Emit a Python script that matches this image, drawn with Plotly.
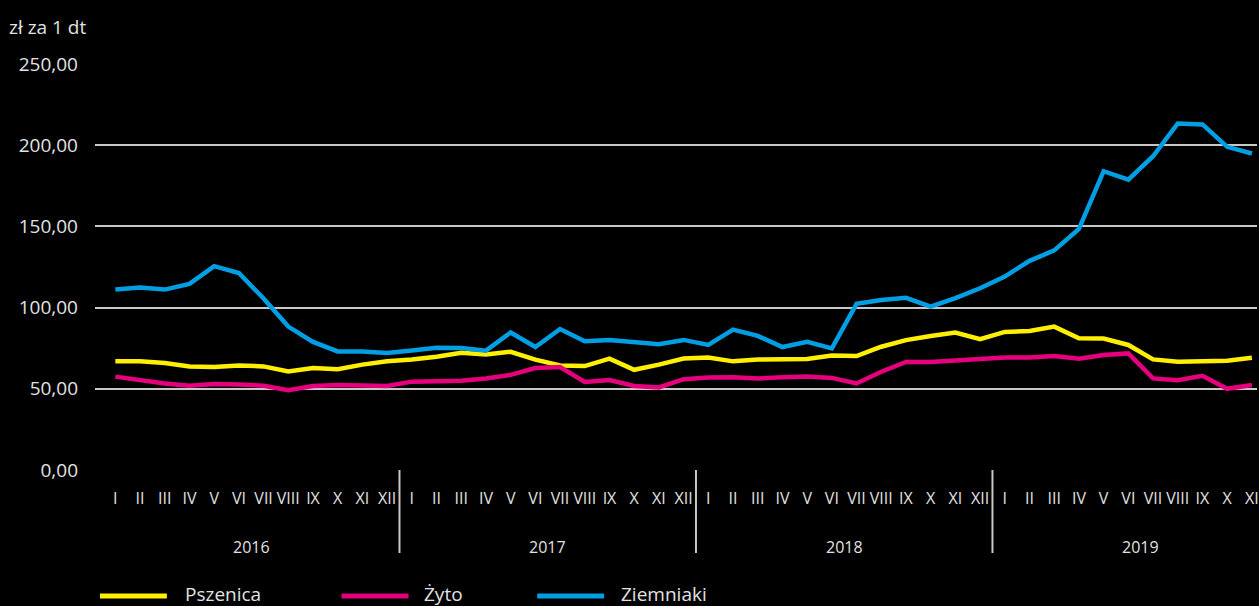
import plotly.graph_objects as go

months = ["I", "II", "III", "IV", "V", "VI", "VII", "VIII", "IX", "X", "XI", "XII"]
years = ["2016", "2017", "2018", "2019"]
tick_labels = months * 4

pszenica = [66.9, 66.9, 65.9, 63.8, 63.4, 64.4, 63.8, 60.7, 62.8, 62.1, 64.9, 66.9,
            68.0, 69.7, 72.2, 71.1, 72.8, 68.0, 64.4, 64.0, 68.6, 61.7, 64.9, 68.6,
            69.2, 66.9, 68.0, 68.0, 68.4, 70.5, 70.2, 75.9, 80.0, 82.5, 84.6, 80.5,
            85.0, 85.6, 88.3, 81.1, 80.9, 77.0, 68.1, 66.7, 67.3, 67.3, 69.1, None]
zyto = [57.5, 55.4, 53.3, 51.9, 52.9, 52.7, 51.9, 49.2, 51.7, 52.3, 51.7, 51.7,
        54.4, 54.8, 55.0, 56.3, 58.6, 62.8, 63.4, 54.2, 55.4, 51.7, 50.8, 55.9,
        56.9, 57.1, 56.3, 57.1, 57.5, 56.7, 53.3, 60.5, 66.5, 66.5, 67.3, 68.1,
        69.3, 69.3, 70.2, 68.5, 70.8, 71.8, 56.4, 55.3, 58.0, 50.0, 52.3, None]
ziemniaki = [111.1, 112.3, 111.1, 114.6, 125.5, 121.3, 105.6, 88.3, 78.9, 73.0, 73.0, 72.0,
             73.6, 75.3, 75.1, 73.5, 84.7, 75.7, 86.8, 79.3, 80.1, 78.9, 77.4, 80.1,
             77.0, 86.4, 82.6, 75.7, 78.9, 74.9, 102.3, 104.7, 106.0, 100.6, 105.8, 111.9,
             119.1, 128.8, 135.2, 148.4, 184.0, 178.8, 193.2, 213.4, 212.8, 199.0, 194.9, None]

series = [("Pszenica", pszenica, "#FFF000"),
          ("Żyto", zyto, "#E6007E"),
          ("Ziemniaki", ziemniaki, "#009FE3")]

x = list(range(len(tick_labels)))
FONT = "Open Sans"
TXT = "#e2e2e2"

fig = go.Figure()
for name, vals, col in series:
    fig.add_trace(go.Scatter(x=x, y=vals, name=name, mode="lines",
                             line=dict(color=col, width=4.5), showlegend=False,
                             hoverinfo="skip"))

W, H = 1259, 606
L, R, T, B = 95, 0, 64, 136
pw = W - L - R
ph = H - T - B

def px2paper_x(p):
    return (p - L) / pw

def px2paper_y(p):
    return (H - B - p) / ph

shapes = []
annotations = []
for k, yr in enumerate(years):
    if k > 0:
        shapes.append(dict(type="line", xref="x", yref="paper",
                           x0=12 * k - 0.5, x1=12 * k - 0.5,
                           y0=0, y1=px2paper_y(553),
                           line=dict(color="#c8c8c8", width=2)))
    annotations.append(dict(text=yr, xref="x", yref="paper", x=12 * k + 5.5,
                            y=px2paper_y(547), showarrow=False,
                            font=dict(family=FONT, size=16, color=TXT),
                            xanchor="center", yanchor="middle"))

annotations.append(dict(text="zł za 1 dt", xref="paper", yref="paper",
                        x=px2paper_x(7), y=px2paper_y(27), showarrow=False,
                        xanchor="left", yanchor="middle",
                        font=dict(family=FONT, size=19, color=TXT)))

leg = [(100, 167, 183), (342, 409, 423), (538, 605, 620)]
for (name, vals, col), (a, b, t) in zip(series, leg):
    shapes.append(dict(type="line", xref="paper", yref="paper",
                       x0=px2paper_x(a), x1=px2paper_x(b),
                       y0=px2paper_y(596), y1=px2paper_y(596),
                       line=dict(color=col, width=5)))
    annotations.append(dict(text=name, xref="paper", yref="paper",
                            x=px2paper_x(t), y=px2paper_y(594), showarrow=False,
                            xanchor="left", yanchor="middle",
                            font=dict(family=FONT, size=19, color=TXT)))

x_left = -0.5 - (103 - L) / 24.75
x_right = x_left + pw / 24.75

fig.update_layout(
    width=W, height=H,
    margin=dict(l=L, r=R, t=T, b=B, pad=0),
    paper_bgcolor="black", plot_bgcolor="black",
    font=dict(family=FONT, color=TXT),
    shapes=shapes, annotations=annotations,
    hovermode=False,
    xaxis=dict(range=[x_left, x_right], tickmode="array", tickvals=x,
               ticktext=tick_labels, showgrid=False, zeroline=False,
               showline=False, ticks="", tickangle=0,
               tickfont=dict(family=FONT, size=16, color=TXT),
               ticklabelstandoff=17, ticklabeloverflow="allow"),
    yaxis=dict(range=[0, 250], tickmode="array",
               tickvals=[0, 50, 100, 150, 200, 250],
               ticktext=["0,00", "50,00", "100,00", "150,00", "200,00", "250,00"],
               showgrid=True, gridcolor="#c8c8c8", gridwidth=2,
               zeroline=False, showline=False, ticks="",
               tickfont=dict(family=FONT, size=19, color=TXT),
               ticklabelstandoff=16),
)

fig.write_html("out.html", config={"displayModeBar": False}, post_script=(
    "document.body.style.margin='0';"
    "document.body.style.background='black';"
    "document.body.style.overflow='hidden';"))
